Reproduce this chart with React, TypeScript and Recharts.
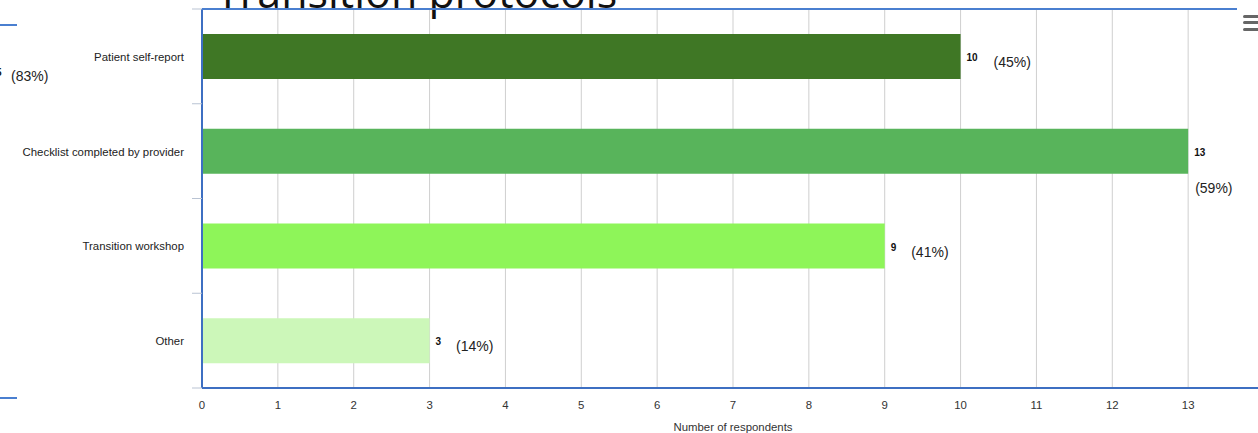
import React from "react";
import { BarChart, Bar, XAxis, YAxis, CartesianGrid, Cell, LabelList } from "recharts";

const categories = ["Patient self-report", "Checklist completed by provider", "Transition workshop", "Other"];
const respondents = [10, 13, 9, 3];
const shares = ["(45%)", "(59%)", "(41%)", "(14%)"];
const barColors = ["#3f7725", "#58b45b", "#8ef559", "#ccf7b9"];
const xTicks = [0, 1, 2, 3, 4, 5, 6, 7, 8, 9, 10, 11, 12, 13, 14];

const data = categories.map((name, i) => ({ name, value: respondents[i], share: shares[i] }));

const FONT = "'Liberation Sans', Arial, Helvetica, sans-serif";
const AXIS_BLUE = "#3d6fc2";

// category label plus the tick marks that sit between the bands
function CategoryTick(props: any) {
  const { x, y, payload, index } = props;
  const half = payload && payload.offset ? payload.offset : 47.4;
  const last = index === categories.length - 1;
  return (
    <g>
      <line x1={202} x2={192} y1={y - half} y2={y - half} stroke="#b9c3d3" />
      {last && <line x1={202} x2={192} y1={y + half} y2={y + half} stroke="#b9c3d3" />}
      <text x={x} y={y + 1.5} textAnchor="end" dominantBaseline="middle" fontFamily={FONT} fontSize={11.4} fill="#222">
        {payload.value}
      </text>
    </g>
  );
}

function BarLabel(props: any) {
  const { x, y, width, height, index, value } = props;
  const end = x + width;
  const cy = y + height / 2;
  const share = shares[index];
  const tight = end > 1150;
  const valueW = String(value).length * 6.5;
  return (
    <g>
      <text x={end + 6} y={cy + 2} fontFamily={FONT} fontSize={10} fontWeight="bold" fill="#111" dominantBaseline="middle">
        {value}
      </text>
      <text
        x={tight ? end + 7 : end + 7 + valueW + 13}
        y={tight ? y + height + 16 : cy + 7}
        fontFamily={FONT}
        fontSize={14}
        fill="#222"
        dominantBaseline="middle"
      >
        {share}
      </text>
    </g>
  );
}

export default function App() {
  return (
    <div style={{ position: "fixed", left: 0, top: 0, width: 1258, height: 433, overflow: "hidden", background: "#fff" }}>
      <BarChart
        width={1280}
        height={433}
        data={data}
        layout="vertical"
        margin={{ top: 9, right: 16, bottom: 0, left: 0 }}
      >
        <CartesianGrid horizontal={false} stroke="#cfcfcf" />
        <YAxis
          type="category"
          dataKey="name"
          width={202}
          tickLine={false}
          tickMargin={12}
          axisLine={{ stroke: AXIS_BLUE, strokeWidth: 2 }}
          tick={<CategoryTick />}
        />
        <XAxis
          type="number"
          domain={[0, 14]}
          ticks={xTicks}
          interval={0}
          height={45}
          tickLine={false}
          tickMargin={7}
          axisLine={{ stroke: AXIS_BLUE, strokeWidth: 2 }}
          tick={{ fontSize: 11.4, fill: "#333", fontFamily: FONT }}
          label={{ value: "Number of respondents", position: "insideBottom", offset: 2, fontSize: 11.4, fill: "#333", fontFamily: FONT }}
        />
        <Bar dataKey="value" barSize={45} isAnimationActive={false}>
          {data.map((_, i) => (
            <Cell key={i} fill={barColors[i]} />
          ))}
          <LabelList dataKey="value" content={BarLabel} />
        </Bar>
      </BarChart>
      <svg width={1258} height={433} style={{ position: "absolute", left: 0, top: 0, pointerEvents: "none" }}>
        <text x={216} y={8} fontFamily="'Open Sans', sans-serif" fontSize={43} fill="#111">
          Transition protocols
        </text>
        <line x1={202} y1={9} x2={1237} y2={9} stroke="#4a7fd0" strokeWidth={2} />
        <line x1={0} y1={25} x2={17} y2={25} stroke="#4a7fd0" strokeWidth={2} />
        <line x1={0} y1={398} x2={17} y2={398} stroke="#4a7fd0" strokeWidth={2} />
        <text x={-4} y={73} fontFamily={FONT} fontSize={10} fontWeight="bold" fill="#111" dominantBaseline="middle">5</text>
        <text x={11} y={77} fontFamily={FONT} fontSize={14} fill="#222" dominantBaseline="middle">(83%)</text>
        <rect x={1243} y={15} width={16} height={3} rx={1.5} fill="#666" />
        <rect x={1243} y={21} width={16} height={3} rx={1.5} fill="#666" />
        <rect x={1243} y={28} width={16} height={3} rx={1.5} fill="#666" />
      </svg>
    </div>
  );
}
